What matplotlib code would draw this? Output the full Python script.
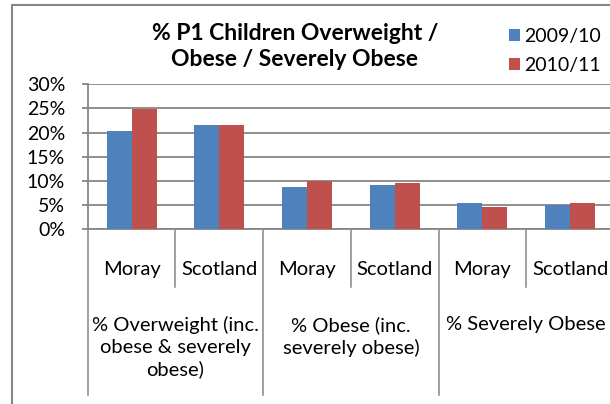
import matplotlib
matplotlib.use("Agg")
import matplotlib.pyplot as plt
import matplotlib.transforms as mtransforms
import numpy as np

plt.rcParams["font.family"] = ["Lato", "DejaVu Sans"]

categories = ["Moray", "Scotland", "Moray", "Scotland", "Moray", "Scotland"]
groups = ["% Overweight (inc.\nobese & severely\nobese)",
          "% Obese (inc.\nseverely obese)",
          "% Severely Obese"]
series_names = ["2009/10", "2010/11"]
values_0910 = [20.3, 21.5, 8.8, 9.2, 5.4, 5.0]
values_1011 = [24.8, 21.5, 10.0, 9.6, 4.7, 5.4]
yticks = [0, 5, 10, 15, 20, 25, 30]

blue = "#4F81BD"
red = "#C0504D"
grey = "#868686"

fig = plt.figure(figsize=(6.1, 4.04), dpi=100)
ax = fig.add_axes([0.1438, 0.4324, 0.8628, 0.3589])

x = np.arange(len(categories))
w = 0.285
ax.bar(x - w / 2, values_0910, w, color=blue, label=series_names[0], zorder=3)
ax.bar(x + w / 2, values_1011, w, color=red, label=series_names[1], zorder=3)

ax.set_xlim(-0.5, len(categories) - 0.5)
ax.set_ylim(0, 30)
ax.set_yticks(yticks)
ax.set_yticklabels([f"{v}%" for v in yticks], fontsize=14)
ax.yaxis.grid(True, color=grey, linewidth=1.3, zorder=0)
ax.tick_params(axis="y", length=4.3, width=1.3, color=grey, pad=12)
ax.set_xticks([])
for s in ["top", "right"]:
    ax.spines[s].set_visible(False)
for s in ["left", "bottom"]:
    ax.spines[s].set_color(grey)
    ax.spines[s].set_linewidth(1.3)

# multi-level category axis
trans = mtransforms.blended_transform_factory(ax.transData, ax.transAxes)
for i, name in enumerate(categories):
    ax.text(i, -0.28, name, transform=trans, ha="center", va="center", fontsize=14.5)
for i in range(len(categories) + 1):
    xd = i - 0.5
    low = -1.14 if i % 2 == 0 else -0.40
    ax.plot([xd, xd], [0, low], transform=trans, color=grey, linewidth=1.1,
            clip_on=False)
for g, label in enumerate(groups):
    ax.text(2 * g + 0.5, -0.60, label, transform=trans, ha="center", va="top",
            fontsize=14.5, linespacing=1.3)

fig.text(0.4836, 0.886, "% P1 Children Overweight /\nObese / Severely Obese",
         ha="center", va="center", fontsize=16.5, fontweight="bold", linespacing=1.3)

fig.legend(loc="upper left", bbox_to_anchor=(0.818, 0.955), frameon=False,
           fontsize=14, handlelength=0.6, handleheight=0.6, handletextpad=0.2,
           labelspacing=0.6, borderpad=0)

# chart border
border = plt.Rectangle((0.02, -0.1), 1.5, 1.088, transform=fig.transFigure,
                       fill=False, edgecolor=grey, linewidth=1.5)
fig.patches.append(border)

fig.savefig("out.png", dpi=100)
